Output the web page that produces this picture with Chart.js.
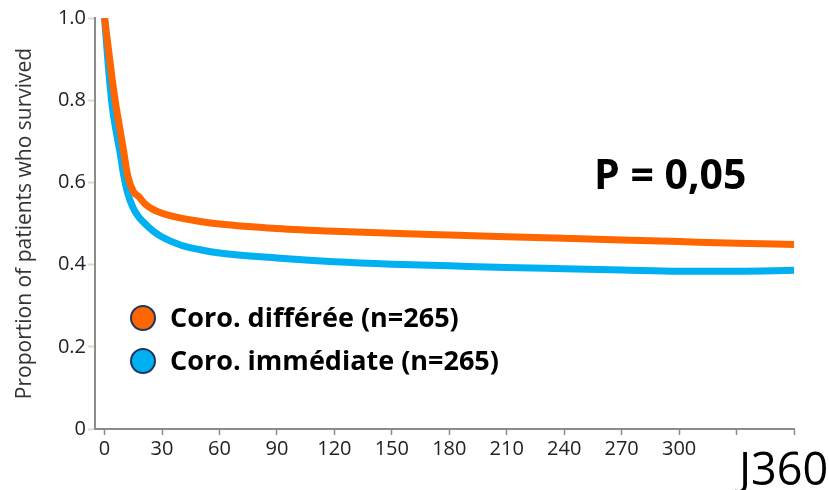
<!DOCTYPE html>
<html>
<head>
<meta charset="utf-8">
<script src="https://cdn.jsdelivr.net/npm/chart.js@4.4.1/dist/chart.umd.min.js"></script>
<style>
  body { margin: 0; background: #fff; }
  #wrap { position: relative; width: 829px; height: 490px; }
  .lg { position: absolute; left: 130px; font: bold 27px 'Open Sans', sans-serif; color: #000; white-space: nowrap; }
  .dot { display: inline-block; width: 22px; height: 22px; border-radius: 50%; border: 2px solid #1f3560; vertical-align: middle; margin-right: 14px; position: relative; top: -2px; }
  #pval { position: absolute; left: 594px; top: 145px; font: bold 41px 'Open Sans', sans-serif; color: #000; }
  #jday { position: absolute; left: 739px; top: 437px; font: 45px 'Open Sans', sans-serif; color: #000; }
</style>
</head>
<body>
<div id="wrap">
  <canvas id="myChart" width="829" height="490"></canvas>
  <div class="lg" style="top:298px"><span class="dot" style="background:#ff6600"></span>Coro. différée (n=265)</div>
  <div class="lg" style="top:341px"><span class="dot" style="background:#00b0f0"></span>Coro. immédiate (n=265)</div>
  <div id="pval">P = 0,05</div>
  <div id="jday">J360</div>
</div>
<script>
'use strict';
let days = [0, 2, 4, 6, 8, 10, 12, 15, 18, 21, 25, 30, 40, 50, 60, 90, 120, 150, 180, 210, 240, 270, 300, 330, 360];
let differee = [1.0, 0.925, 0.85, 0.785, 0.73, 0.675, 0.618, 0.578, 0.565, 0.548, 0.535, 0.525, 0.513, 0.505, 0.499, 0.488, 0.481, 0.476, 0.472, 0.468, 0.464, 0.46, 0.456, 0.452, 0.449];
let immediate = [1.0, 0.88, 0.785, 0.725, 0.675, 0.617, 0.575, 0.537, 0.515, 0.50, 0.483, 0.467, 0.447, 0.436, 0.428, 0.416, 0.407, 0.401, 0.397, 0.393, 0.39, 0.387, 0.384, 0.384, 0.386];
let xTicks = [0, 30, 60, 90, 120, 150, 180, 210, 240, 270, 300, 330, 360];
let xLabelsShown = [0, 30, 60, 90, 120, 150, 180, 210, 240, 270, 300];
let yTicks = [0, 0.2, 0.4, 0.6, 0.8, 1.0];

function toPoints(values) {
    let pts = [];
    for (let i = 0; i < days.length; i++) {
        pts.push({ x: days[i], y: values[i] });
    }
    return pts;
}

let ctx = document.getElementById('myChart').getContext('2d');
let chart = new Chart(ctx, {
    type: 'line',
    data: {
        datasets: [
            {
                label: 'Coro. différée (n=265)',
                data: toPoints(differee),
                borderColor: '#ff6600',
                borderWidth: 7,
                pointRadius: 0,
                cubicInterpolationMode: 'monotone'
            },
            {
                label: 'Coro. immédiate (n=265)',
                data: toPoints(immediate),
                borderColor: '#00b0f0',
                borderWidth: 7,
                pointRadius: 0,
                cubicInterpolationMode: 'monotone'
            }
        ]
    },
    options: {
        responsive: false,
        animation: false,
        layout: { padding: { top: 18, right: 35, left: 0, bottom: 0 } },
        plugins: { legend: { display: false }, tooltip: { enabled: false } },
        scales: {
            x: {
                type: 'linear',
                min: -5,
                max: 360,
                afterBuildTicks: function (axis) {
                    axis.ticks = xTicks.map(v => ({ value: v }));
                },
                afterFit: function (axis) { axis.height = 61; },
                grid: { drawOnChartArea: false, tickLength: 6, tickColor: '#8c8c84', tickWidth: 1.5 },
                border: { color: '#8c8c84', width: 2 },
                ticks: {
                    autoSkip: false,
                    maxRotation: 0,
                    color: '#222',
                    padding: 2,
                    font: { family: 'Open Sans', size: 20 },
                    callback: function (v) { return xLabelsShown.includes(v) ? String(v) : ''; }
                }
            },
            y: {
                min: 0,
                max: 1,
                afterBuildTicks: function (axis) {
                    axis.ticks = yTicks.map(v => ({ value: v }));
                },
                afterFit: function (axis) { axis.width = 95; },
                grid: { drawOnChartArea: false, tickLength: 7, tickColor: '#d8d8d4', tickWidth: 2 },
                border: { color: '#8c8c84', width: 2 },
                title: {
                    display: true,
                    text: 'Proportion of patients who survived',
                    color: '#333',
                    font: { family: 'Open Sans', size: 21 },
                    padding: { top: 12, bottom: 0 }
                },
                ticks: {
                    color: '#222',
                    padding: 2,
                    font: { family: 'Open Sans', size: 20 },
                    callback: function (v) { return v === 0 ? '0' : v.toFixed(1); }
                }
            }
        }
    }
});
</script>
</body>
</html>
